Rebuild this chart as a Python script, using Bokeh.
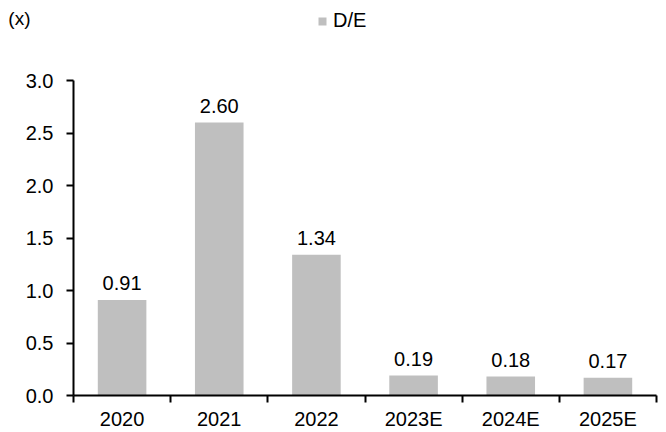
from bokeh.plotting import figure
from bokeh.layouts import column
from bokeh.models import (FixedTicker, NumeralTickFormatter, ColumnDataSource, Legend, LegendItem,
                          Range1d, LinearAxis)
from bokeh.core.properties import value
from bokeh.embed import file_html
from bokeh.resources import INLINE

categories = ["2020", "2021", "2022", "2023E", "2024E", "2025E"]
de_values = [0.91, 2.60, 1.34, 0.19, 0.18, 0.17]
y_ticks = [0.0, 0.5, 1.0, 1.5, 2.0, 2.5, 3.0]
series_name = "D/E"
unit_text = "(x)"

FONT = "Liberation Sans"
BAR = "#BFBFBF"
FS = "20px"
LEFT = 73
xs = [i + 0.5 for i in range(len(categories))]
src = ColumnDataSource(dict(x=xs, y=de_values, lbl=["%.2f" % v for v in de_values]))

TOP_H = 65
# header strip holding unit text and legend
top = figure(width=666, height=TOP_H, output_backend="svg", toolbar_location=None,
             x_range=Range1d(0, 666 - LEFT - 10), y_range=Range1d(0, TOP_H),
             min_border_left=LEFT, min_border_right=10, min_border_top=0, min_border_bottom=0,
             x_axis_type=None, y_axis_type=None)
top.outline_line_color = None
top.grid.grid_line_color = None
swatch = top.vbar(x=[0], top=[0], bottom=[0], width=0, fill_color=BAR, line_color=None)
legend = Legend(items=[LegendItem(label=series_name, renderers=[swatch])], location=(317 - LEFT, TOP_H - 32),
                orientation="horizontal", border_line_color=None, background_fill_alpha=0,
                label_text_font=FONT, label_text_font_size=FS, label_text_color="black",
                glyph_width=10, glyph_height=10, label_standoff=6, padding=0, margin=0, label_height=20)
top.add_layout(legend, "center")
unit_y = TOP_H - 17.5
unit_axis = LinearAxis(ticker=FixedTicker(ticks=[unit_y], minor_ticks=[]),
                       major_label_overrides={unit_y: unit_text},
                       axis_line_color=None, major_tick_line_color=None, minor_tick_line_color=None,
                       major_label_text_font=FONT, major_label_text_font_size="19px",
                       major_label_text_color="black", major_label_standoff=LEFT - 36)
top.add_layout(unit_axis, "left")

p = figure(width=666, height=432 - TOP_H, output_backend="svg", toolbar_location=None,
           x_range=Range1d(0, len(categories)), y_range=Range1d(0, 3.0),
           min_border_left=LEFT, min_border_right=10, min_border_top=80 - TOP_H, min_border_bottom=37)
p.outline_line_color = None
p.grid.grid_line_color = None

p.vbar(x="x", top="y", width=0.5, source=src, fill_color=BAR, line_color=None)
p.text(x="x", y="y", text="lbl", source=src, text_align="center", text_baseline="alphabetic",
       y_offset=-17, text_font=value(FONT), text_font_size=FS, text_color="black")

xa = p.xaxis[0]
xa.ticker = FixedTicker(ticks=xs, minor_ticks=list(range(len(categories) + 1)))
xa.major_label_overrides = {x: c for x, c in zip(xs, categories)}
xa.major_tick_line_color = None
xa.major_tick_out = 0
xa.major_tick_in = 0
xa.minor_tick_line_color = "black"
xa.minor_tick_line_width = 2
xa.minor_tick_out = 7
xa.minor_tick_in = 0
xa.axis_line_width = 2
xa.axis_line_color = "black"
xa.major_label_text_font = FONT
xa.major_label_text_font_size = FS
xa.major_label_text_color = "black"
xa.major_label_standoff = 12

ya = p.yaxis[0]
ya.ticker = FixedTicker(ticks=y_ticks, minor_ticks=[])
ya.formatter = NumeralTickFormatter(format="0.0")
ya.major_tick_out = 7
ya.major_tick_in = 0
ya.major_tick_line_width = 2
ya.axis_line_width = 2
ya.axis_line_color = "black"
ya.major_label_text_font = FONT
ya.major_label_text_font_size = FS
ya.major_label_text_color = "black"
ya.major_label_standoff = 13

xa.major_label_standoff = 5

layout = column(top, p, spacing=0)
open("out.html", "w").write(file_html(layout, INLINE))
